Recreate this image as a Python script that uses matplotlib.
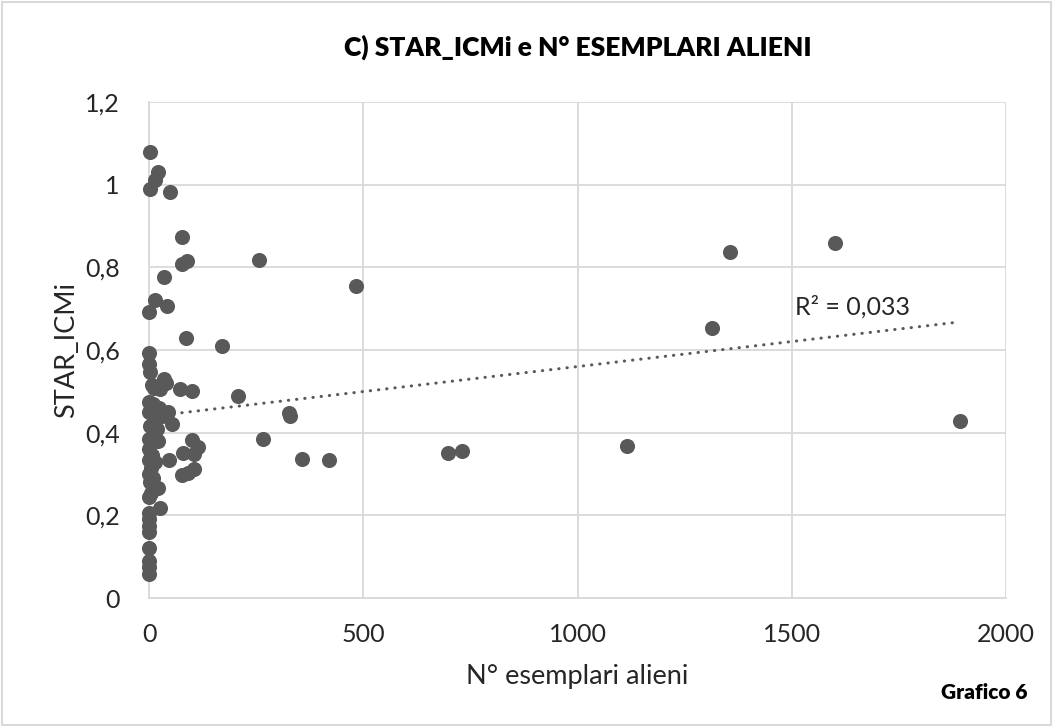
import matplotlib.pyplot as plt
from matplotlib.patches import Rectangle
import numpy as np

# N° esemplari alieni vs STAR_ICMi
n_alieni = [2, 20, 14, 3, 48, 78, 88, 77, 256, 36,
            14, 42, 0, 484, 86, 170, 0, 0, 3, 8,
            12, 35, 40, 26, 72, 100, 208, 0, 10, 24,
            0, 44, 30, 12, 54, 2, 18, 326, 330, 266,
            358, 420, 697, 731, 1116, 1314, 1355, 1602, 1893, 100,
            114, 80, 106, 106, 78, 92, 46, 0, 20, 5,
            0, 8, 0, 15, 5, 0, 10, 2, 20, 4,
            0, 26, 0, 0, 0, 0, 0, 0, 0, 0]
star_icmi = [1.078, 1.030, 1.012, 0.990, 0.983, 0.874, 0.815, 0.807, 0.818, 0.776,
             0.720, 0.707, 0.692, 0.756, 0.630, 0.610, 0.592, 0.566, 0.546, 0.515,
             0.508, 0.530, 0.520, 0.505, 0.505, 0.501, 0.489, 0.475, 0.470, 0.460,
             0.450, 0.450, 0.440, 0.430, 0.422, 0.415, 0.410, 0.448, 0.441, 0.385,
             0.336, 0.334, 0.351, 0.356, 0.368, 0.653, 0.838, 0.859, 0.428, 0.382,
             0.366, 0.351, 0.349, 0.311, 0.298, 0.302, 0.333, 0.385, 0.380, 0.375,
             0.360, 0.345, 0.335, 0.330, 0.315, 0.300, 0.290, 0.280, 0.265, 0.255,
             0.245, 0.218, 0.205, 0.190, 0.175, 0.160, 0.120, 0.090, 0.075, 0.058]

# linea di tendenza lineare
trend_intercept = 0.439
trend_slope = 0.000121
r2_label = "R² = 0,033"

x_ticks = [0, 500, 1000, 1500, 2000]
y_ticks = [0, 0.2, 0.4, 0.6, 0.8, 1.0, 1.2]
y_ticklabels = ["0", "0,2", "0,4", "0,6", "0,8", "1", "1,2"]

plt.rcParams['font.family'] = ['Lato', 'DejaVu Sans']

grey = '#595959'
text_col = '#262626'

fig = plt.figure(figsize=(10.54, 7.27), dpi=100)
ax = fig.add_axes([0.1414, 0.1774, 0.8131, 0.6823])

ax.scatter(n_alieni, star_icmi, s=118, color=grey, zorder=3, linewidths=0, clip_on=False)

xt = np.array([min(n_alieni), max(n_alieni)])
ax.plot(xt, trend_intercept + trend_slope * xt, color=grey, lw=2.2,
        linestyle=(0, (0.1, 2.6)), dash_capstyle='round', zorder=2)
ax.text(1508, 0.704, r2_label, fontsize=18, color=text_col, va='center', ha='left')

ax.set_xlim(0, 2000)
ax.set_ylim(0, 1.2)
ax.set_xticks(x_ticks)
ax.set_yticks(y_ticks)
ax.set_yticklabels(y_ticklabels)
ax.tick_params(length=0, labelsize=18, labelcolor=text_col)
ax.tick_params(axis='x', pad=18)
ax.tick_params(axis='y', pad=21)
ax.grid(color='#d9d9d9', lw=1.3)
ax.set_axisbelow(True)
for sp in ['top', 'right']:
    ax.spines[sp].set_visible(False)
for sp in ['left', 'bottom']:
    ax.spines[sp].set_color('#d9d9d9')
    ax.spines[sp].set_linewidth(1.3)

ax.set_xlabel("N° esemplari alieni", fontsize=19.5, color=text_col, labelpad=13)
ax.set_ylabel("STAR_ICMi", fontsize=19.5, color=text_col, labelpad=4)

fig.text(0.548, 0.935, "C) STAR_ICMi e N° ESEMPLARI ALIENI", fontsize=19,
         fontweight='heavy', color='black', ha='center', va='center')
fig.text(0.975, 0.047, "Grafico 6", fontsize=15, fontweight='heavy',
         color='black', ha='right', va='center')

fig.patches.append(Rectangle((0.002, 0.003), 0.995, 0.994, transform=fig.transFigure,
                             fill=False, edgecolor='#d9d9d9', lw=1.5))

fig.savefig("out.png", dpi=100)
